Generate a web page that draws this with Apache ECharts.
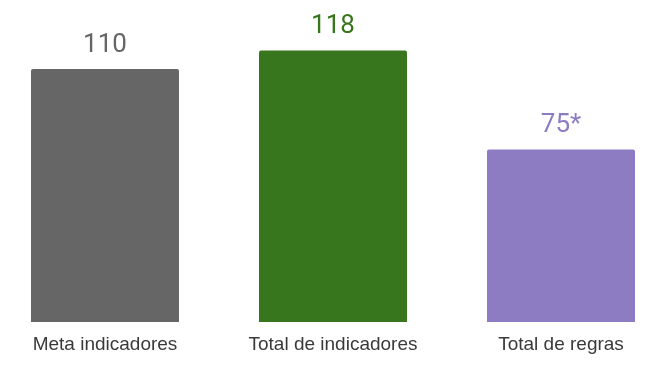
<!DOCTYPE html>
<html><head><meta charset="utf-8">
<script src="https://cdn.jsdelivr.net/npm/echarts@6/dist/echarts.min.js"></script>
<style>html,body{margin:0;padding:0;background:#fff;overflow:hidden}#c{width:684px;height:365px;margin-left:-9px}</style>
</head><body><div id="c"></div>
<script>
const categories = ['Meta indicadores', 'Total de indicadores', 'Total de regras'];
const values = [110, 118, 75];
const valueLabels = ['110', '118', '75*'];
const colors = ['#666666', '#38761d', '#8e7cc3'];

const chart = echarts.init(document.getElementById('c'));
chart.setOption({
  animation: false,
  grid: { left: 0, right: 0, top: 46, bottom: 43 },
  xAxis: {
    type: 'category', data: categories,
    axisLine: { show: false }, axisTick: { show: false },
    axisLabel: { color: '#3a3a3a', fontFamily: 'Liberation Sans', fontSize: 19, margin: 13 }
  },
  yAxis: { type: 'value', min: 0, max: 120, show: false, splitLine: { show: false } },
  series: [{
    type: 'bar', barWidth: 148,
    data: values.map((v, i) => ({
      value: v,
      itemStyle: { color: colors[i], borderRadius: [2, 2, 0, 0] },
      label: { show: true, position: 'top', distance: 11, color: colors[i], fontFamily: 'Roboto', fontSize: 26, formatter: valueLabels[i] }
    }))
  }]
});
</script></body></html>
